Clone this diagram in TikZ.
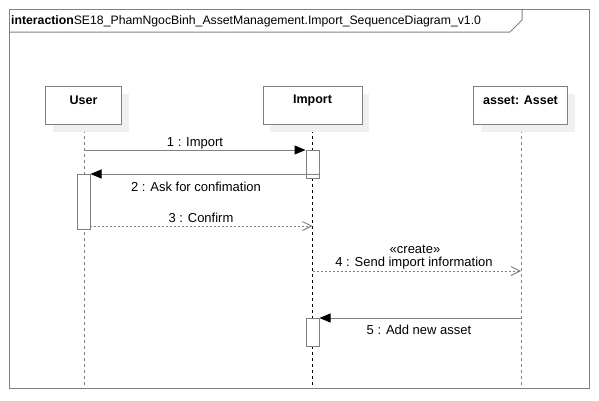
\documentclass[tikz,border=0pt]{standalone}
\usepackage{fontspec}
\setmainfont{Liberation Sans}
\usetikzlibrary{arrows.meta,shadows,calc}
\definecolor{lc}{HTML}{808080}
\definecolor{shd}{HTML}{F0F0F0}
\begin{document}
\begin{tikzpicture}[x=1pt,y=-1pt,
  font=\fontsize{13}{15}\selectfont,
  lifebox/.style={draw=lc, line width=1pt, fill=white, inner sep=0pt, minimum height=38pt,
    drop shadow={shadow xshift=7pt, shadow yshift=-7pt, fill=shd, opacity=1}},
  boxlbl/.style={font=\fontsize{12.5}{14}\selectfont\bfseries, inner sep=0pt},
  act/.style={draw=lc, line width=1pt, fill=white, inner sep=0pt, minimum width=13pt},
  lifeg/.style={draw=lc, line width=1pt, dash pattern=on 3pt off 3pt},
  lifek/.style={draw=black, line width=0.9pt, dash pattern=on 3pt off 3pt},
  syncmsg/.style={draw=lc, line width=1pt, -{Triangle[length=11pt,width=9pt,color=black]}},
  retmsg/.style={draw=lc, line width=1pt, dash pattern=on 2pt off 2pt, -{Straight Barb[length=9pt,width=9pt,line width=1pt]}},
  msglbl/.style={inner sep=0pt},
  frameline/.style={draw=lc, line width=1pt}]
\useasboundingbox (0,0) rectangle (599,400);
% frame
\draw[frameline] (9.5,9.5) rectangle (589,388.5);
\draw[frameline] (9.5,32) -- (510,32) -- (522,20) -- (522,9.5);
\node[anchor=west, inner sep=0pt, font=\fontsize{12.25}{14}\selectfont] (title) at (11,21) {\textbf{interaction}SE18\_PhamNgocBinh\_AssetManagement.Import\_SequenceDiagram\_v1.0};
% lifeline end coordinates
\coordinate (ue) at (84,387);
\coordinate (ie) at (312.5,387);
\coordinate (ae) at (521,387);
% lifelines
\draw[lifeg] (84,124) -- (ue);
\draw[lifek] (312.5,124) -- (ie);
\draw[lifeg] (521,124) -- (ae);
% boxes
\node[lifebox, minimum width=76pt, anchor=north west] (user) at (45,86) {};
\node[lifebox, minimum width=99pt, anchor=north west] (import) at (262.5,86) {};
\node[lifebox, minimum width=94pt, anchor=north west] (asset) at (473,86) {};
\node[boxlbl] (userl) at ($(user.north)+(0,14)$) {User};
\node[boxlbl] (importl) at ($(import.north)+(0,14)$) {Import};
\node[boxlbl] (assetl) at ($(asset.north)+(0,14)$) {asset: Asset};
% activations
\node[act, minimum height=28pt, anchor=north west] (a1) at (305.5,150) {};
\node[act, minimum height=55pt, anchor=north west] (a2) at (76.5,174) {};
\node[act, minimum height=28pt, anchor=north west] (a3) at (305.5,318) {};
% message coordinates
\coordinate (m1s) at (84,150);
\coordinate (m2s) at (318.5,174);
\coordinate (m3s) at (89.5,226);
\coordinate (m3e) at (312.5,226);
\coordinate (m4s) at (312.5,271);
\coordinate (m4e) at (521,271);
\coordinate (m5s) at (521,318);
% messages
\draw[syncmsg] (m1s) -- (a1.north west);
\draw[syncmsg] (m2s) -- (a2.north east);
\draw[retmsg] (m3s) -- (m3e);
\draw[retmsg] (m4s) -- (m4e);
\draw[syncmsg] (m5s) -- (a3.north east);
% labels
\node[msglbl] (l1) at (195,143) {1 : Import};
\node[msglbl] (l2) at (196,187) {2 : Ask for confimation};
\node[msglbl] (l3) at (201,218) {3 : Confirm};
\node[msglbl] (l4a) at (415,249) {«create»};
\node[msglbl] (l4b) at (414,263) {4 : Send import information};
\node[msglbl] (l5) at (419,330) {5 : Add new asset};
\end{tikzpicture}
\end{document}
